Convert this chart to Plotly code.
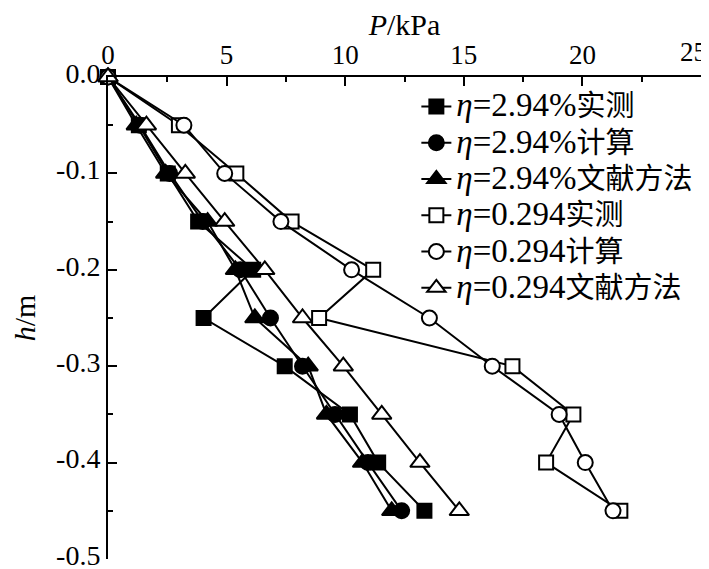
import plotly.graph_objects as go

# depth h (m)
depth = [0.0, -0.05, -0.1, -0.15, -0.2, -0.25, -0.3, -0.35, -0.4, -0.45]

# pressure P (kPa) for each series
p_294_measured = [0, 1.3, 2.52, 3.8, 6.12, 4.03, 7.45, 10.2, 11.39, 13.34]
p_294_calc = [0, 1.35, 2.6, 4.0, 5.58, 6.85, 8.2, 9.57, 10.96, 12.38]
p_294_lit = [0, 1.19, 2.43, 4.2, 5.37, 6.19, 8.44, 9.21, 10.73, 11.96]
p_0294_measured = [0, 2.99, 5.41, 7.74, 11.18, 8.9, 17.05, 19.62, 18.47, 21.6]
p_0294_calc = [0, 3.2, 4.92, 7.29, 10.27, 13.55, 16.2, 19.02, 20.12, 21.29]
p_0294_lit = [0, 1.62, 3.26, 4.92, 6.61, 8.2, 9.92, 11.54, 13.15, 14.81]

eta_labels = ["2.94%", "2.94%", "2.94%", "0.294", "0.294", "0.294"]
method_labels = ["实测", "计算", "文献方法", "实测", "计算", "文献方法"]
series_values = [p_294_measured, p_294_calc, p_294_lit,
                 p_0294_measured, p_0294_calc, p_0294_lit]
symbols = ["square", "circle", "triangle-up", "square", "circle", "triangle-up"]
fills = ["black", "black", "black", "white", "white", "white"]
sizes = [14, 15, 17, 14, 15, 17]

y_tickvals = [0.0, -0.1, -0.2, -0.3, -0.4, -0.5]
y_ticktext = ["0.0", "-0.1", "-0.2", "-0.3", "-0.4", "-0.5"]
x_tickvals = [0, 5, 10, 15, 20, 25]
x_ticktext = ["0", "5", "10", "15", "20", "25"]

FONT = "Liberation Serif, Times New Roman, Noto Sans CJK SC, serif"
TICKFONT = dict(family=FONT, size=27, color="black")

fig = go.Figure()
for eta, method, vals, sym, fill, sz in zip(eta_labels, method_labels, series_values,
                                            symbols, fills, sizes):
    # latin part a bit larger than the CJK part, as in the source figure
    name = (f"<span style='font-size:33px'><i>η</i>={eta}</span>"
            f"<span style='font-size:29px'>{method}</span>")
    fig.add_trace(go.Scatter(
        x=vals, y=depth, name=name, mode="lines+markers",
        line=dict(color="black", width=2),
        marker=dict(symbol=sym, size=sz, color=fill, line=dict(color="black", width=2)),
        cliponaxis=False,
    ))

# the last x label sits at the window edge, so it is drawn right-aligned to its tick
fig.update_xaxes(
    side="top", range=[0, 25], tickvals=x_tickvals,
    ticktext=x_ticktext[:-1] + [""],
    showline=True, linecolor="black", linewidth=2, mirror=False,
    ticks="inside", ticklen=9, tickwidth=2, tickcolor="black",
    minor=dict(ticks="inside", ticklen=5, tickwidth=2, tickcolor="black", dtick=2.5),
    showgrid=False, zeroline=False, ticklabeloverflow="allow", automargin=False,
    ticklabelstandoff=0,
    tickfont=TICKFONT,
    title=dict(text="<i>P</i>/kPa", font=dict(family=FONT, size=30, color="black"), standoff=2),
)
fig.add_annotation(
    x=x_tickvals[-1], xref="x", y=1, yref="paper", text=x_ticktext[-1],
    showarrow=False, xanchor="right", yanchor="middle", xshift=8, yshift=25,
    font=TICKFONT,
)
fig.update_yaxes(
    range=[-0.5, 0], tickvals=y_tickvals, ticktext=y_ticktext,
    showline=True, linecolor="black", linewidth=2, mirror=False,
    ticks="inside", ticklen=9, tickwidth=2, tickcolor="black",
    minor=dict(ticks="inside", ticklen=5, tickwidth=2, tickcolor="black", dtick=0.05),
    showgrid=False, zeroline=False, ticklabeloverflow="allow", automargin=False,
    ticklabelshift=-4,
    tickfont=dict(family=FONT, size=28, color="black"),
    title=dict(text="<i>h</i>/m", font=dict(family=FONT, size=30, color="black"), standoff=29),
)

# the page body adds an 8 px margin, so the figure is sized to fit the window
fig.update_layout(
    width=701, height=561,
    margin=dict(l=100, r=8, t=69, b=10),
    plot_bgcolor="white", paper_bgcolor="white",
    font=dict(family=FONT, color="black"),
    legend=dict(
        x=0.52, y=0.987, xanchor="left", yanchor="top",
        bgcolor="rgba(0,0,0,0)", borderwidth=0,
        font=dict(family=FONT, size=25.6, color="black"),
        tracegroupgap=0, itemwidth=30,
    ),
)

fig.write_html("out.html")
